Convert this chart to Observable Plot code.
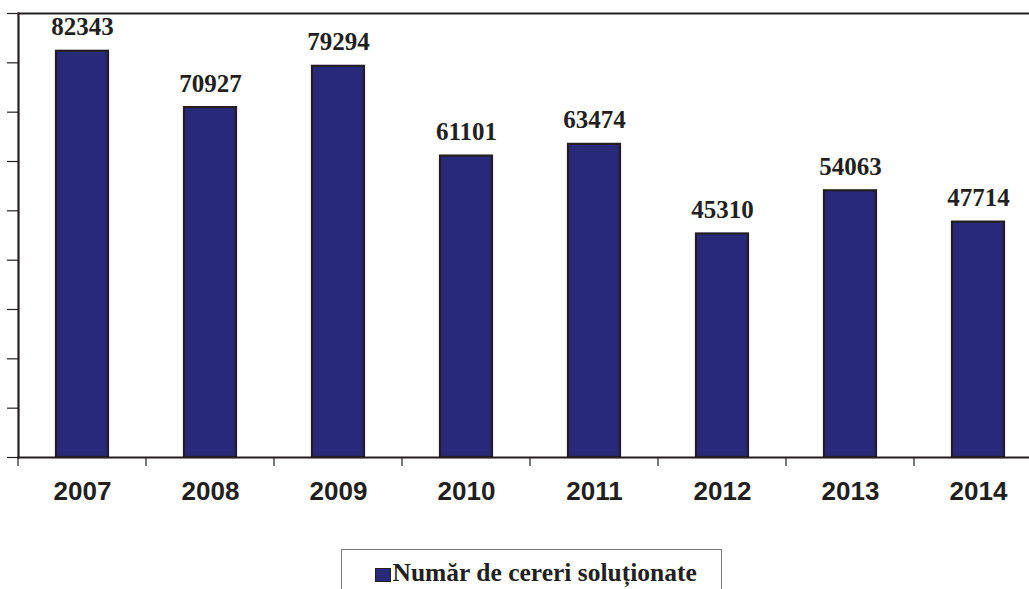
<!DOCTYPE html>
<html>
<head>
<meta charset="utf-8">
<script src="https://cdn.jsdelivr.net/npm/d3@7"></script>
<script src="https://cdn.jsdelivr.net/npm/@observablehq/plot@0.6"></script>
<style>
  html, body { margin: 0; padding: 0; background: #fff; overflow: hidden; }
  #legend {
    position: relative;
    margin-left: 341px; margin-top: 9px; width: 381px; height: 60px;
    border: 1.5px solid #777; border-bottom: none; box-sizing: border-box;
    font-family: "Liberation Serif", "Times New Roman", serif; font-weight: bold; font-size: 25.5px; color: #231f20;
  }
  #legend .sw { position: absolute; left: 32.5px; top: 17.5px; width: 16px; height: 14px; background: #29297a; border: 1.5px solid #231f20; box-sizing: border-box; }
  #legend .lbl { position: absolute; left: 50.5px; top: 10px; line-height: 1; white-space: nowrap; }
</style>
</head>
<body>
<div id="chart"></div>
<div id="legend"><span class="sw"></span><span class="lbl" id="lbl"></span></div>
<script>
const years = ["2007", "2008", "2009", "2010", "2011", "2012", "2013", "2014"];
const values = [82343, 70927, 79294, 61101, 63474, 45310, 54063, 47714];
const yTicks = [0, 10000, 20000, 30000, 40000, 50000, 60000, 70000, 80000, 90000];
const seriesName = "Număr de cereri soluționate";

document.getElementById("lbl").textContent = seriesName;

const data = years.map((y, i) => ({year: y, value: values[i]}));
const ink = "#231f20";
const serif = "'Liberation Serif', 'Times New Roman', serif";

const chart = Plot.plot({
  width: 1029,
  height: 540,
  marginLeft: 18,
  marginRight: -13,
  marginTop: 13,
  marginBottom: 83,
  x: {domain: years, paddingInner: 0.594, paddingOuter: 0.297, label: null},
  y: {domain: [0, 90000], label: null},
  marks: [
    Plot.barY(data, {x: "year", y: "value", fill: "#29297a", stroke: ink, strokeWidth: 2.2}),
    Plot.text(data, {x: "year", y: "value", text: d => String(d.value), lineAnchor: "bottom", dy: -16,
      fontFamily: serif, fontWeight: "bold", fontSize: 25, fill: ink}),
    Plot.axisY({ticks: yTicks, tickSize: 11, tickFormat: () => "", stroke: ink, strokeWidth: 1.2}),
    Plot.axisX({tickSize: 0, tickPadding: 24, fontSize: 26, fontWeight: "bold", fontFamily: "'Liberation Sans', Arial, sans-serif", fill: ink}),
    Plot.frame({anchor: "left", stroke: ink, strokeWidth: 2.2}),
    Plot.frame({anchor: "top", stroke: ink, strokeWidth: 2.2}),
    Plot.frame({anchor: "bottom", stroke: ink, strokeWidth: 2.2})
  ]
});
document.getElementById("chart").appendChild(chart);

// category boundary ticks below the baseline, placed through the x scale
const xs = chart.scale("x");
const ys = chart.scale("y");
const base = ys.apply(0);
const svg = d3.select(chart);
svg.append("g").attr("stroke", ink).attr("stroke-width", 1.2)
  .selectAll("line").data(years).join("line")
  .attr("x1", d => xs.apply(d) - (xs.step - xs.bandwidth) / 2)
  .attr("x2", d => xs.apply(d) - (xs.step - xs.bandwidth) / 2)
  .attr("y1", base).attr("y2", base + 9);
</script>
</body>
</html>
